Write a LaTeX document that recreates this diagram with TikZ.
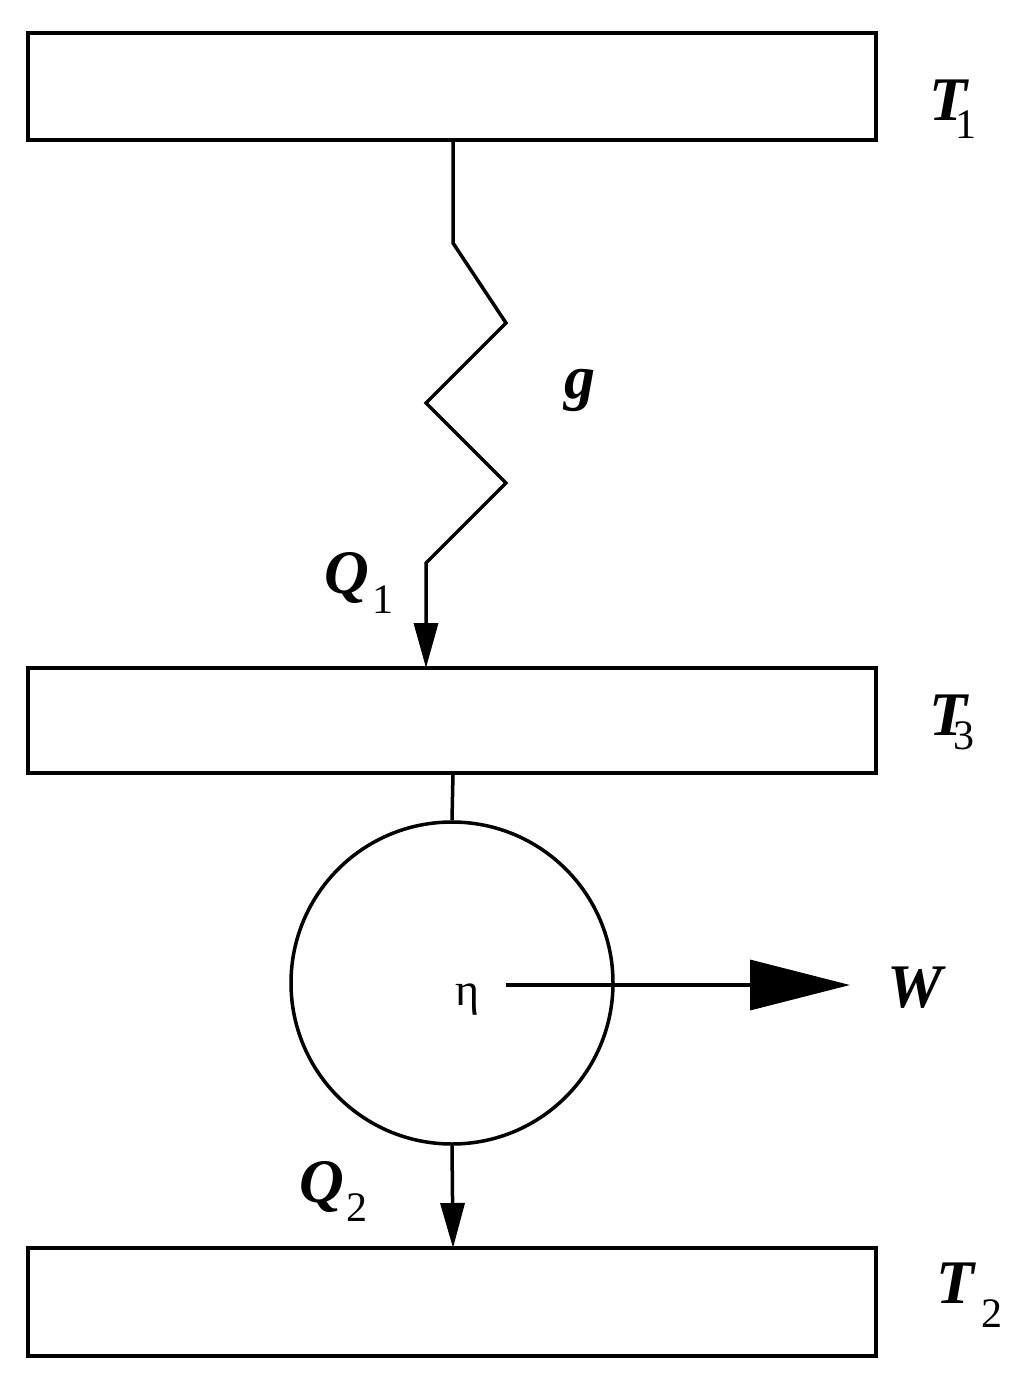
\documentclass[tikz,border=0pt]{standalone}
\usepackage{fontspec}
\setmainfont{Liberation Serif}
\usetikzlibrary{arrows.meta}
\begin{document}
\begin{tikzpicture}[x=1pt,y=-1pt,
  box/.style={draw,line width=4pt},
  ln/.style={line width=3.5pt},
  lab/.style={font=\fontsize{62}{62}\selectfont\bfseries\itshape,inner sep=0},
  sub/.style={font=\fontsize{42}{42}\selectfont,inner sep=0}]
\useasboundingbox (0,0) rectangle (1024,1379);
\draw[box] (28,33) rectangle (876,140);
\draw[box] (28,668) rectangle (876,773);
\draw[box] (28,1248) rectangle (876,1356);
\coordinate (z0) at (453,140);
\coordinate (z1) at (426,668);
\draw[ln,-{Stealth[length=45pt,width=24pt,inset=0pt]}] (z0) -- (453,243) -- (506,323) -- (426,403) -- (506,483) -- (426,563) -- (z1);
\node[draw,circle,line width=3.5pt,minimum size=322pt,inner sep=0] (c) at (452,983) {};
\draw[ln] (453,773) -- (c.north);
\coordinate (b) at (453,1248);
\draw[ln,-{Stealth[length=45pt,width=24pt,inset=0pt]}] (c.south) -- (b);
\coordinate (w0) at (506,985);
\coordinate (w1) at (850,985);
\draw[ln,-{Triangle[length=100pt,width=50pt]}] (w0) -- (w1);
\node[lab] (T1) at (948,100) {T};
\node[sub] (s1) at (966,125) {1};
\node[lab] (T3) at (948,715) {T};
\node[sub] (s3) at (964,736) {3};
\node[lab] (T2) at (955,1283) {T};
\node[sub] (s2) at (992,1314) {2};
\node[lab] (g) at (580,390) {g};
\node[lab] (Q1) at (347,578) {Q};
\node[sub] (q1) at (383,600) {1};
\node[lab] (Q2) at (322,1187) {Q};
\node[sub] (q2) at (357,1208) {2};
\node[lab] (W) at (915,988) {W};
\node[font=\fontsize{46}{46}\selectfont,inner sep=0] (eta) at (468,1000) {η};
\end{tikzpicture}
\end{document}
